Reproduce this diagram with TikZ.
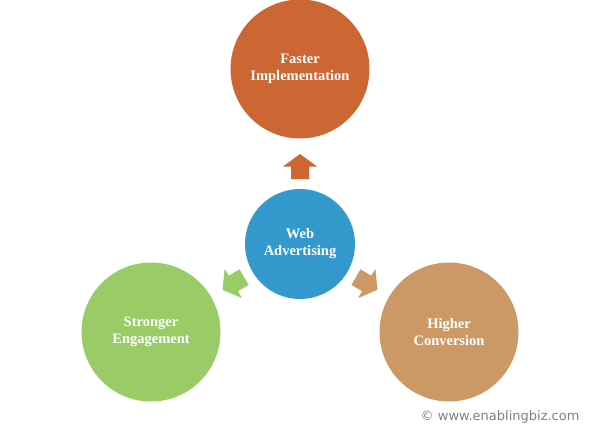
\documentclass[tikz,border=0pt]{standalone}
\usepackage{fontspec}
\setmainfont{Liberation Serif}
\setsansfont{DejaVu Sans}
\usetikzlibrary{positioning}

\begin{document}
\begin{tikzpicture}[x=1pt,y=1pt,font=\bfseries\fontsize{14.5}{17}\selectfont]
  \definecolor{fastcol}{RGB}{204,102,51}
  \definecolor{webcol}{RGB}{51,153,204}
  \definecolor{engcol}{RGB}{153,204,102}
  \definecolor{convcol}{RGB}{204,153,102}

  \tikzset{
    bubble/.style={circle,inner sep=0pt,text=white,align=center},
    hubbubble/.style={bubble,fill=webcol,minimum size=110pt},
    outbubble/.style={bubble,minimum size=139pt},
    blockarrow/.pic={
      \fill (0,-9) -- (12.5,-9) -- (12.5,-17) -- (25,0) -- (12.5,17) -- (12.5,9) -- (0,9) -- cycle;
    }
  }

  \useasboundingbox (0,0) rectangle (600,432);

  % ---------------- Hub ----------------
  \node[hubbubble] (web) at (300,188) {Web\\Advertising};

  % ---------------- Outcomes ----------------
  \node[outbubble,fill=fastcol] (fast) at (300,363) {Faster\\Implementation};
  \node[outbubble,fill=engcol] (eng) at (151,100) {Stronger\\Engagement};
  \node[outbubble,fill=convcol] (conv) at (449,100) {Higher\\Conversion};

  % Block arrows pointing from the hub to each outcome
  \path (web.center) pic[fastcol,shift={(90:65)},rotate=90] {blockarrow};
  \path (web.center) pic[engcol,shift={(210.6:65)},rotate=210.6] {blockarrow};
  \path (web.center) pic[convcol,shift={(-30.6:65)},rotate=-30.6] {blockarrow};

  % Footer
  \node[anchor=east,font=\sffamily\fontsize{13}{15}\selectfont,text=black!50] (credit) at (583,15) {\textcopyright\ www.enablingbiz.com};
\end{tikzpicture}
\end{document}
